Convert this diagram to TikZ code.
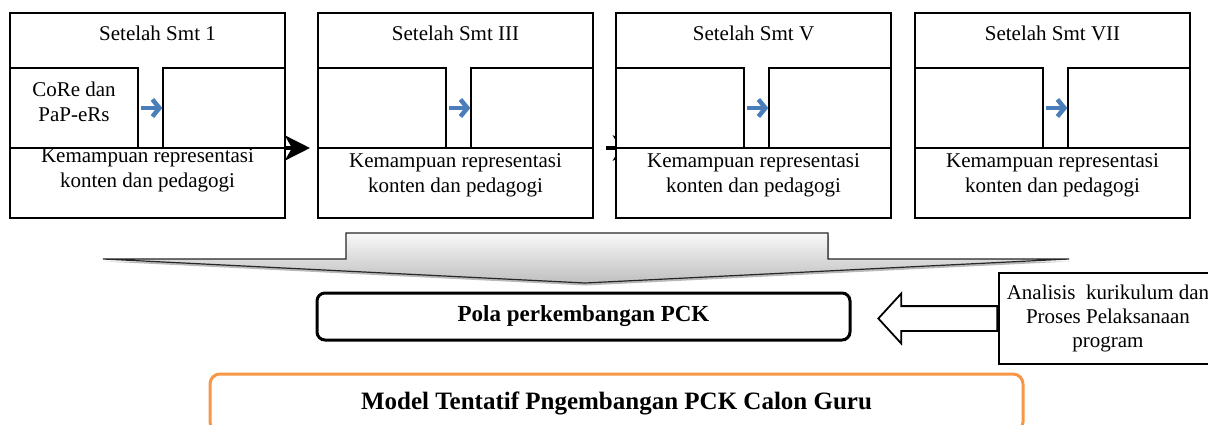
\documentclass[tikz,border=0pt]{standalone}
\usepackage{fontspec}
\setmainfont{Liberation Serif}
\usetikzlibrary{arrows.meta,shapes.arrows,shadows,calc}
\definecolor{arrowblue}{RGB}{74,126,187}
\definecolor{modelorange}{RGB}{247,150,70}
\pgfdeclarelayer{background}
\pgfsetlayers{background,main}
\tikzset{
    txt/.style={font=\fontsize{21}{25}\selectfont, inner sep=0pt},
    semesterbox/.style={draw, line width=1.3pt, fill=white,
        minimum width=275, minimum height=205, inner sep=0pt},
    innerbox/.style={draw, line width=1.3pt, minimum height=80, inner sep=0pt},
    % panah biru di dalam kotak semester
    bluearrow/.style={
        line width=4.5pt,
        arrowblue,
        shorten <=2pt,
        -{Straight Barb[length=7pt, width=17pt]}
    },
    % panah hitam antar semester
    blackarrow/.style={
        line width=4.5pt,
        black,
        -{Stealth[length=25pt, width=25pt, inset=7pt]}
    },
    callout/.style={line width=1.2pt, draw=black!85,
        top color=gray!5, bottom color=gray!50,
        drop shadow={shadow xshift=1pt, shadow yshift=-2.5pt, opacity=.55}},
    polabox/.style={draw, line width=3pt, rounded corners=8pt,
        minimum width=533, minimum height=47,
        font=\bfseries\fontsize{23}{27}\selectfont},
    modelbox/.style={draw=modelorange, line width=3pt, rounded corners=10pt,
        minimum width=813, minimum height=58,
        font=\bfseries\fontsize{25}{29}\selectfont},
    notebox/.style={draw, line width=1.5pt, fill=white, align=center,
        minimum width=218, minimum height=91, inner sep=0pt,
        font=\fontsize{21}{24}\selectfont},
    hollowarrow/.style={single arrow, draw, line width=1.8pt, fill=white,
        shape border rotate=180, minimum height=119, inner ysep=11.5pt, inner xsep=0pt,
        single arrow head extend=12.5pt, single arrow tip angle=95}
}
\begin{document}
\begin{tikzpicture}[x=1pt,y=-1pt]
    \useasboundingbox (0,0) rectangle (1208,425);
    \clip (0,0) rectangle (1208,425);

    % kotak semester
    \foreach \i/\x/\smt/\tdx/\kdy in {1/10/1/10/-5, 2/318/III/0/0, 3/616/V/0/0, 4/915/VII/0/0}{
        \node[semesterbox] (s\i) at ({\x+137.5},115.5) {};
        \node[innerbox, minimum width=128] (a\i) at ({\x+64},108) {};
        \node[innerbox, minimum width=122] (b\i) at ({\x+214},108) {};
        \coordinate (e\i) at (\x,148);
        \coordinate (m\i) at ({\x+275},148);
        \draw[line width=1.3pt] (e\i) -- (m\i);
        \node[txt] (t\i) at ({\x+137.5+\tdx},33) {Setelah Smt \smt};
        \node[txt, align=center] (k\i) at ({\x+137.5},{175.5+\kdy})
            {Kemampuan representasi\\konten dan pedagogi};
        \draw[bluearrow] (a\i) -- (b\i);
    }
    \node[txt, align=center] (core) at ($(a1)+(0,-6)$) {CoRe dan\\PaP-eRs};

    \begin{pgfonlayer}{background}
        \draw[blackarrow, shorten <=-10pt, shorten >=8pt] (m1) -- (e2);
        \draw[blackarrow, shorten <=13pt, shorten >=-22pt] (m2) -- (e3);
    \end{pgfonlayer}

    % panah besar ke bawah
    \draw[callout] (346,233) -- (828,233) -- (828,259) -- (1069,259)
        -- (585,283) -- (103,259) -- (346,259) -- cycle;

    \node[polabox] (pola) at (583.5,316.5) {Pola perkembangan PCK};
    \node[notebox] (ana) at (1108,318.5)
        {Analisis\ \ kurikulum dan\\Proses Pelaksanaan\\program};
    \node[hollowarrow, anchor=tail] (inp) at (ana.west) {};

    \node[modelbox] (model) at (616.5,403) {Model Tentatif Pngembangan PCK Calon Guru};
\end{tikzpicture}
\end{document}
